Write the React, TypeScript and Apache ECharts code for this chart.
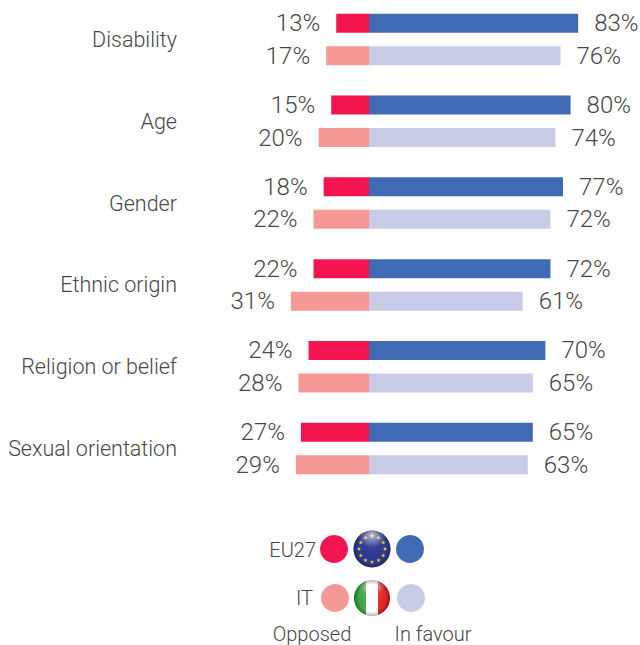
import React, { useEffect, useRef } from "react";
import * as echarts from "echarts";

const categories = ["Disability", "Age", "Gender", "Ethnic origin", "Religion or belief", "Sexual orientation"];
const euOpposed = [13, 15, 18, 22, 24, 27];
const euFavour = [83, 80, 77, 72, 70, 65];
const itOpposed = [17, 20, 22, 31, 28, 29];
const itFavour = [76, 74, 72, 61, 65, 63];

const TEXT = "#474747";
const FONT = "Roboto, 'Liberation Sans', sans-serif";
const RED = "#f2154f";
const BLUE = "#406bb4";
const PINK = "#f69896";
const LILAC = "#c8cce6";

function starPoints(cx: number, cy: number, r: number) {
  const pts: number[][] = [];
  for (let i = 0; i < 10; i++) {
    const a = -Math.PI / 2 + (i * Math.PI) / 5;
    const rad = i % 2 === 0 ? r : r * 0.42;
    pts.push([cx + rad * Math.cos(a), cy + rad * Math.sin(a)]);
  }
  return pts;
}

function legendGraphics() {
  const gloss = {
    type: "radial", x: 0.5, y: 0.08, r: 0.62,
    colorStops: [
      { offset: 0, color: "rgba(255,255,255,0.75)" },
      { offset: 0.6, color: "rgba(255,255,255,0.05)" },
      { offset: 1, color: "rgba(255,255,255,0)" },
    ],
  };
  const shade = {
    type: "radial", x: 0.5, y: 0.5, r: 0.5,
    colorStops: [
      { offset: 0.75, color: "rgba(0,0,0,0)" },
      { offset: 1, color: "rgba(0,0,0,0.28)" },
    ],
  };
  const euCx = 372, euCy = 549, itCx = 372, itCy = 598;
  const stars = Array.from({ length: 12 }, (_, i) => {
    const a = (i * Math.PI) / 6;
    return {
      type: "polygon",
      shape: { points: starPoints(euCx + 13 * Math.sin(a), euCy - 13 * Math.cos(a), 2.3) },
      style: { fill: "#f5c518" },
      z: 12,
    };
  });
  const label = (text: string, x: number, y: number, align: string) => ({
    type: "text", x, y,
    style: { text, fill: TEXT, font: `300 20px ${FONT}`, textAlign: align, textVerticalAlign: "middle" },
    z: 12,
  });
  const dot = (cx: number, cy: number, r: number, fill: any, z = 10) => ({
    type: "circle", shape: { cx, cy, r }, style: { fill }, z,
  });
  return [
    label("EU27", 316, 550, "right"),
    dot(334, 549, 14, RED),
    dot(euCx, euCy, 18.5, "#2b3990"),
    ...stars,
    dot(euCx, euCy, 18.5, gloss, 13),
    dot(euCx, euCy, 18.5, shade, 13),
    dot(410, 549, 14, BLUE),
    label("IT", 313, 598, "right"),
    dot(335, 598, 14, PINK),
    dot(itCx, itCy, 18, {
      type: "linear", x: 0, y: 0, x2: 1, y2: 0,
      colorStops: [
        { offset: 0, color: "#2f9e3f" },
        { offset: 0.33, color: "#4aa84a" },
        { offset: 0.33, color: "#ffffff" },
        { offset: 0.67, color: "#ffffff" },
        { offset: 0.67, color: "#ee2a2a" },
        { offset: 1, color: "#d9201f" },
      ],
    }),
    dot(itCx, itCy, 18, gloss, 13),
    dot(itCx, itCy, 18, shade, 13),
    dot(411, 598, 14, LILAC),
    label("Opposed", 312, 634, "center"),
    label("In favour", 433, 634, "center"),
  ];
}

export default function App() {
  const ref = useRef<HTMLDivElement>(null);
  useEffect(() => {
    document.body.style.margin = "0";
    const chart = echarts.init(ref.current!, null, { renderer: "svg" });
    const labelStyle = { color: TEXT, fontSize: 24, fontWeight: 300, fontFamily: FONT };
    const mk = (name: string, stack: string, values: number[], color: string, sign: number) => ({
      name,
      type: "bar",
      stack,
      barWidth: 19,
      barGap: "71%",
      data: values.map((v) => sign * v),
      itemStyle: { color },
      label: {
        show: true,
        position: sign < 0 ? "left" : "right",
        distance: 16,
        formatter: (p: any) => `${Math.abs(p.value)}%`,
        ...labelStyle,
      },
    });
    chart.setOption({
      animation: false,
      backgroundColor: "#ffffff",
      grid: { left: 190, width: 450, top: -1.4, height: 490.8, outerBoundsMode: "none" },
      xAxis: { type: "value", min: -71.03, max: 107.54, show: false },
      yAxis: {
        type: "category",
        inverse: true,
        data: categories,
        axisLine: { show: false, onZero: false },
        axisTick: { show: false },
        axisLabel: { margin: 13, color: TEXT, fontSize: 21.5, fontWeight: 300, fontFamily: FONT },
      },
      series: [
        mk("EU27 Opposed", "eu", euOpposed, RED, -1),
        mk("EU27 In favour", "eu", euFavour, BLUE, 1),
        mk("IT Opposed", "it", itOpposed, PINK, -1),
        mk("IT In favour", "it", itFavour, LILAC, 1),
      ],
      graphic: { elements: legendGraphics() },
    });
    return () => chart.dispose();
  }, []);
  return <div ref={ref} style={{ position: "absolute", left: 0, top: 0, width: 640, height: 645 }} />;
}
